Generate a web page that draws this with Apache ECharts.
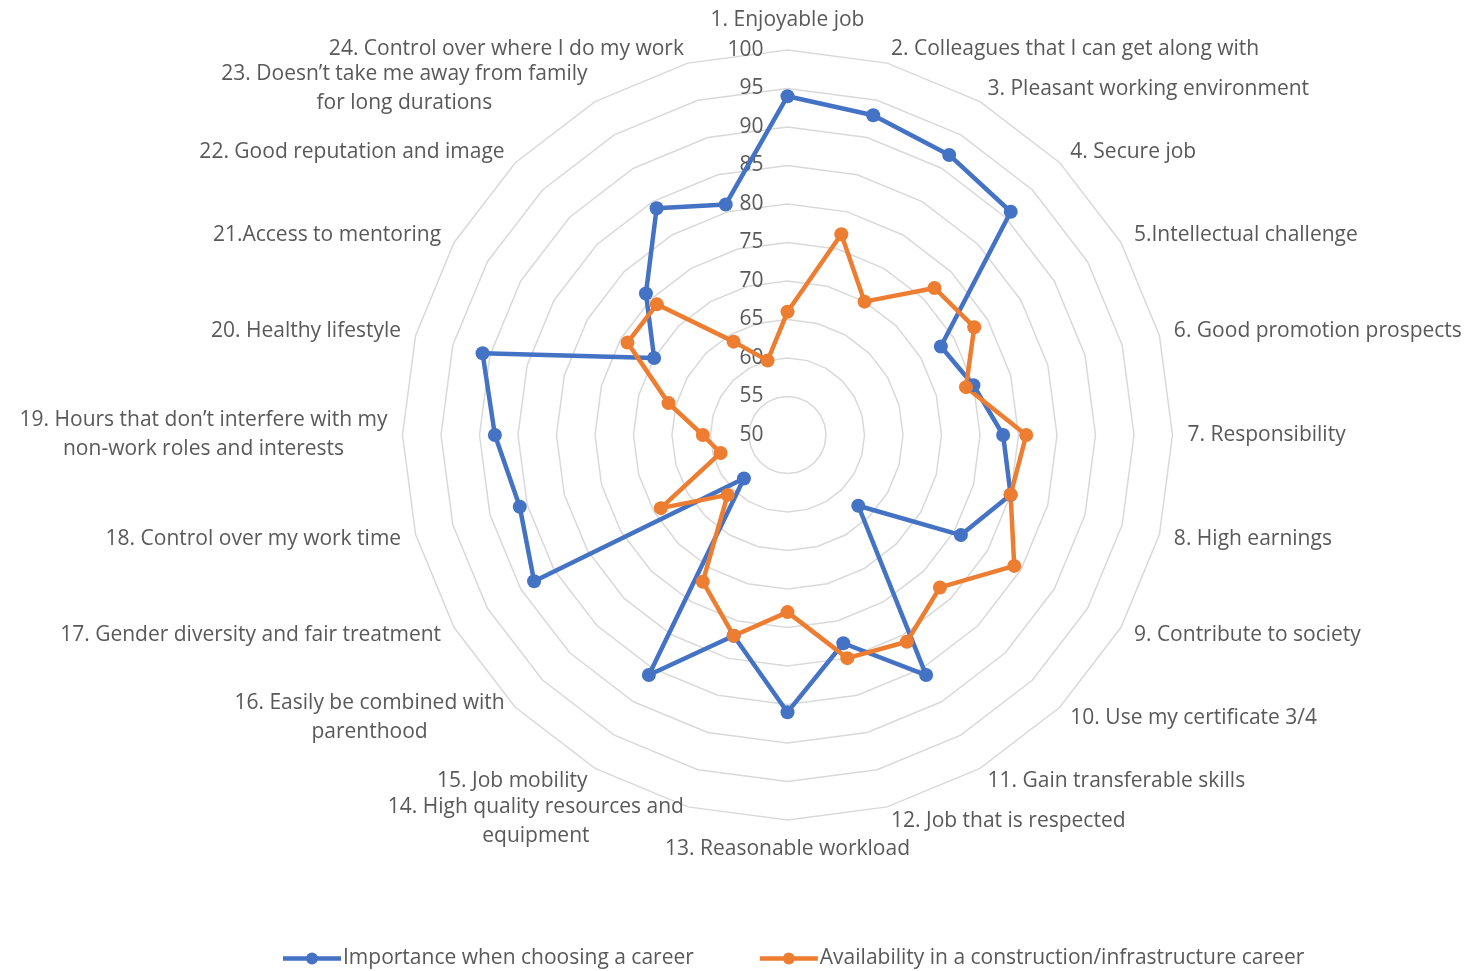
<!DOCTYPE html>
<html>
<head>
<meta charset="utf-8">
<title>Career radar</title>
<script src="https://cdn.jsdelivr.net/npm/echarts@6/dist/echarts.min.js"></script>
<style>
  html, body { margin: 0; padding: 0; background: #fff; }
  #chart { width: 1468px; height: 971px; }
</style>
</head>
<body>
<div id="chart"></div>
<script>
var categories = [
  '1. Enjoyable job',
  '2. Colleagues that I can get along with',
  '3. Pleasant working environment',
  '4. Secure job',
  '5.Intellectual challenge',
  '6. Good promotion prospects',
  '7. Responsibility',
  '8. High earnings',
  '9. Contribute to society',
  '10. Use my certificate 3/4',
  '11. Gain transferable skills',
  '12. Job that is respected',
  '13. Reasonable workload',
  '14. High quality resources and\nequipment',
  '15. Job mobility',
  '16. Easily be combined with\nparenthood',
  '17. Gender diversity and fair treatment',
  '18. Control over my work time',
  '19. Hours that don\u2019t interfere with my\nnon-work roles and interests',
  '20. Healthy lifestyle',
  '21.Access to mentoring',
  '22. Good reputation and image',
  '23. Doesn\u2019t take me away from family\nfor long durations',
  '24. Control over where I do my work'
]
var seriesNames = ['Importance when choosing a career', 'Availability in a construction/infrastructure career']
var importance = [94, 93, 92, 91, 73, 75, 78, 80, 76, 63, 86, 78, 86, 77, 86, 58, 88, 86, 88, 91, 70, 76, 84, 81]
var availability = [66, 77, 70, 77, 78, 74, 81, 80, 84, 78, 81, 80, 73, 77, 72, 61, 69, 59, 61, 66, 74, 74, 64, 60]
var valueMin = 50
var valueMax = 100
var valueStep = 5

var FONT = '"Open Sans", "Noto Sans", sans-serif'
var TEXT = '#595959'
var FS = 21

// legend marker: thick line with a dot in the middle (58 x 12 box)
var LINE_DOT = 'path://M0,3.75 L23.44,3.75 A6,6 0 0 1 34.56,3.75 L58,3.75 L58,8.25 L34.56,8.25 A6,6 0 0 1 23.44,8.25 L0,8.25 Z'

// radar goes counter-clockwise, the source chart goes clockwise
function clockwise(arr) {
  return [arr[0]].concat(arr.slice(1).reverse())
}

var indicators = clockwise(categories).map(function(name, i) {
  var ind = { name: name, min: valueMin, max: valueMax }
  if (i === 0) {
    // only the top axis carries the value labels
    ind.axisLabel = { show: true, color: TEXT, fontSize: FS, fontFamily: FONT, margin: 24 }
  }
  return ind
})

var chart = echarts.init(document.getElementById('chart'))
chart.setOption({
  animation: false,
  color: ['#4472C4', '#ED7D31'],
  legend: {
    left: 278,
    top: 943,
    itemWidth: 58,
    itemHeight: 12,
    itemGap: 66,
    icon: LINE_DOT,
    textStyle: { color: TEXT, fontSize: FS, fontFamily: FONT, padding: [0, 0, 0, -3] },
    data: seriesNames
  },
  radar: {
    center: [787.5, 435],
    radius: 385,
    shape: 'polygon',
    splitNumber: (valueMax - valueMin) / valueStep,
    nameGap: 15,
    axisName: {
      color: TEXT,
      fontSize: FS,
      fontFamily: FONT,
      lineHeight: 29,
      formatter: function(name) {
        return name.split('\n').map(function(l) { return '{c|' + l + '}' }).join('\n')
      },
      rich: {
        c: { align: 'center', color: TEXT, fontSize: FS, fontFamily: FONT, lineHeight: 29 }
      }
    },
    axisLine: { show: false },
    axisTick: { show: false },
    axisLabel: { show: false },
    splitArea: { show: false },
    splitLine: { lineStyle: { color: '#d9d9d9', width: 1.5 } },
    indicator: indicators
  },
  series: [{
    type: 'radar',
    symbol: 'circle',
    symbolSize: 14,
    lineStyle: { width: 4.5 },
    data: [
      { name: seriesNames[0], value: clockwise(importance) },
      { name: seriesNames[1], value: clockwise(availability) }
    ]
  }]
})
</script>
</body>
</html>
